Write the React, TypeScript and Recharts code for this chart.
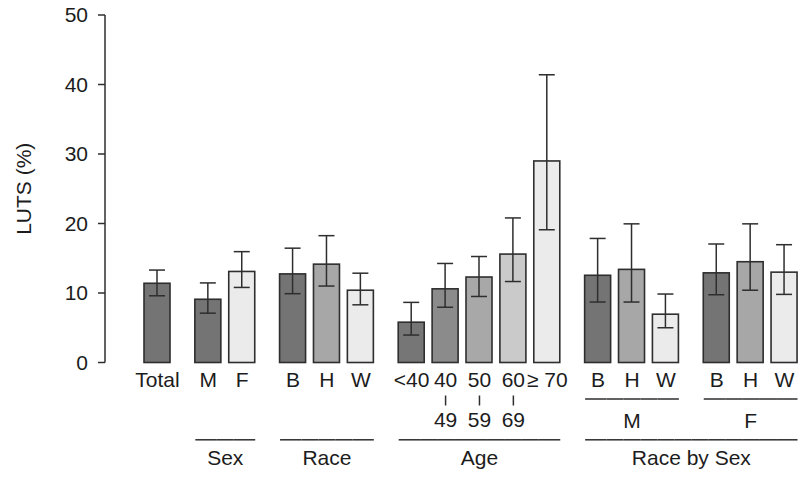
import React from "react";
import { BarChart, Bar, XAxis, YAxis, ErrorBar, Cell } from "recharts";

// ---------- data ----------
const totalLabels = ["Total"];
const totalValues = [11.4];
const totalLow = [9.6];
const totalHigh = [13.3];

const sexLabels = ["M", "F"];
const sexValues = [9.1, 13.1];
const sexLow = [7.1, 10.8];
const sexHigh = [11.45, 15.95];

const raceLabels = ["B", "H", "W"];
const raceValues = [12.75, 14.15, 10.4];
const raceLow = [9.9, 11.0, 8.3];
const raceHigh = [16.45, 18.25, 12.85];

const ageLabels = ["<40", "40", "50", "60", "\u2265 70"];
const ageSubLabels = ["", "49", "59", "69", ""];
const ageValues = [5.8, 10.6, 12.3, 15.6, 29.0];
const ageLow = [3.95, 7.95, 9.5, 11.65, 19.1];
const ageHigh = [8.65, 14.25, 15.25, 20.8, 41.4];

const maleRaceLabels = ["B", "H", "W"];
const maleRaceValues = [12.55, 13.4, 6.95];
const maleRaceLow = [8.7, 8.7, 5.0];
const maleRaceHigh = [17.85, 19.95, 9.85];

const femaleRaceLabels = ["B", "H", "W"];
const femaleRaceValues = [12.9, 14.5, 13.0];
const femaleRaceLow = [9.75, 10.4, 9.8];
const femaleRaceHigh = [17.05, 19.95, 16.95];

const yTicks = [0, 10, 20, 30, 40, 50];

// ---------- styles ----------
const C_DARK = "#747474";
const C_MID = "#a7a7a7";
const C_LIGHT = "#ebebeb";
const totalFills = [C_DARK];
const sexFills = [C_DARK, C_LIGHT];
const raceFills = [C_DARK, C_MID, C_LIGHT];
const ageFills = ["#767676", "#8b8b8b", "#a8a8a8", "#cacaca", "#ebebeb"];
const INK = "#1c1c1c";
const LINE = "#2e2e2e";
const FONT = "'Liberation Sans', Arial, Helvetica, sans-serif";
const FS = 21;
const BAR_W = 26;

// ---------- table ----------
type Seg = {
  outer: string;
  inner: string;
  labels: string[];
  subs?: string[];
  values: number[];
  low: number[];
  high: number[];
  fills: string[];
};

const segments: Seg[] = [
  { outer: "", inner: "", labels: totalLabels, values: totalValues, low: totalLow, high: totalHigh, fills: totalFills },
  { outer: "Sex", inner: "", labels: sexLabels, values: sexValues, low: sexLow, high: sexHigh, fills: sexFills },
  { outer: "Race", inner: "", labels: raceLabels, values: raceValues, low: raceLow, high: raceHigh, fills: raceFills },
  { outer: "Age", inner: "", labels: ageLabels, subs: ageSubLabels, values: ageValues, low: ageLow, high: ageHigh, fills: ageFills },
  { outer: "Race by Sex", inner: "M", labels: maleRaceLabels, values: maleRaceValues, low: maleRaceLow, high: maleRaceHigh, fills: raceFills },
  { outer: "Race by Sex", inner: "F", labels: femaleRaceLabels, values: femaleRaceValues, low: femaleRaceLow, high: femaleRaceHigh, fills: raceFills },
];

type Row = {
  key: string;
  label: string;
  sub: string;
  value: number | null;
  err?: [number, number];
  fill: string;
  outer: string;
  inner: string;
  outerTag: string;
  innerTag: string;
};

const rows: Row[] = [];
let blankId = 0;
const blank = (outer: string, inner: string, oTag: string, iTag: string): Row => ({
  key: `_${blankId++}`,
  label: "",
  sub: "",
  value: null,
  fill: "none",
  outer,
  inner,
  outerTag: oTag,
  innerTag: iTag,
});
segments.forEach((s, si) => {
  if (si > 0) {
    const sameOuter = segments[si - 1].outer === s.outer && s.outer !== "";
    const oTag = sameOuter ? `o${si}` : "";
    rows.push(blank(sameOuter ? s.outer : "", "", oTag, ""));
    rows.push(blank(sameOuter ? s.outer : "", "", oTag, ""));
  }
  s.labels.forEach((lab, j) => {
    rows.push({
      key: `${si}-${j}`,
      label: lab,
      sub: s.subs ? s.subs[j] : "",
      value: s.values[j],
      err: [s.values[j] - s.low[j], s.high[j] - s.values[j]],
      fill: s.fills[j],
      outer: s.outer,
      inner: s.inner,
      outerTag: s.outer ? `o${si}` : "",
      innerTag: s.inner ? `i${si}` : "",
    });
    if (j < s.labels.length - 1) {
      rows.push(blank(s.outer, s.inner, s.outer ? `o${si}` : "", s.inner ? `i${si}` : ""));
    }
  });
});
// unify outer tags within the same outer group
for (let i = 1; i < rows.length; i++) {
  if (rows[i].outer && rows[i].outer === rows[i - 1].outer && rows[i - 1].outerTag) {
    rows[i].outerTag = rows[i - 1].outerTag;
  }
}

type LevelInfo = { first: boolean; last: boolean; run: number; name: string } | null;
function levelInfo(i: number, tagKey: "outerTag" | "innerTag", nameKey: "outer" | "inner"): LevelInfo {
  const r = rows[i];
  const tag = r[tagKey];
  if (!tag) return null;
  const first = i === 0 || rows[i - 1][tagKey] !== tag;
  const last = i === rows.length - 1 || rows[i + 1][tagKey] !== tag;
  let run = 0;
  if (first) {
    let k = i;
    while (k < rows.length && rows[k][tagKey] === tag) {
      run++;
      k++;
    }
  }
  return { first, last, run, name: r[nameKey] };
}

const data = rows.map((r) => ({ key: r.key, value: r.value, err: r.err }));

// ---------- renderers ----------
const BarShape = (props: any) => {
  const { x, y, width, height, payload, fill } = props;
  if (!payload || payload.value == null || !isFinite(height)) return <g />;
  const cx = x + width / 2;
  return (
    <rect x={cx - BAR_W / 2} y={y} width={BAR_W} height={height} fill={fill} stroke={LINE} strokeWidth={1.6} />
  );
};

const XTick = (props: any) => {
  const { x, y, payload, index } = props;
  const band = payload && payload.offset ? payload.offset * 2 : 16.95;
  const i = typeof index === "number" ? index : rows.findIndex((r) => r.key === payload.value);
  const r = rows[i];
  if (!r) return null;
  const els: React.ReactNode[] = [];
  if (r.label) {
    els.push(
      <text key="l" x={x} y={y + 24.5} textAnchor="middle" fontSize={FS} fontFamily={FONT} fill={INK}>
        {r.label}
      </text>
    );
  }
  if (r.sub) {
    els.push(<line key="bar" x1={x} x2={x} y1={y + 33} y2={y + 43} stroke={LINE} strokeWidth={1.5} />);
    els.push(
      <text key="s" x={x} y={y + 64} textAnchor="middle" fontSize={FS} fontFamily={FONT} fill={INK}>
        {r.sub}
      </text>
    );
  }
  const levels: [LevelInfo, number, number][] = [
    [levelInfo(i, "innerTag", "inner"), 36.5, 65.3],
    [levelInfo(i, "outerTag", "outer"), 77.3, 102.5],
  ];
  levels.forEach(([info, ly, ty], li) => {
    if (!info) return;
    const left = info.first ? x - BAR_W / 2 : x - band / 2;
    const right = info.last ? x + BAR_W / 2 : x + band / 2;
    els.push(<line key={`g${li}`} x1={left} x2={right} y1={y + ly} y2={y + ly} stroke={LINE} strokeWidth={1.5} />);
    if (info.first) {
      els.push(
        <text key={`t${li}`} x={x + ((info.run - 1) * band) / 2} y={y + ty} textAnchor="middle" fontSize={FS} fontFamily={FONT} fill={INK}>
          {info.name}
        </text>
      );
    }
  });
  return <g>{els}</g>;
};

const YLabel = (props: any) => {
  const vb = props.viewBox || { x: 0, y: 15, width: 105, height: 347 };
  const cx = vb.x + 23.5;
  const cy = vb.y + vb.height / 2;
  return (
    <text x={cx} y={cy} transform={`rotate(-90, ${cx}, ${cy})`} textAnchor="middle" dominantBaseline="central" fontSize={FS} fontFamily={FONT} fill={INK}>
      LUTS (%)
    </text>
  );
};

export default function App() {
  return (
    <div style={{ position: "absolute", left: 0, top: 0, width: 798, height: 477, background: "#fff", overflow: "hidden" }}>
      <BarChart width={798} height={477} data={data} margin={{ top: 15, right: 5, bottom: 0, left: 0 }} barSize={10}>
        <XAxis
          dataKey="key"
          type="category"
          interval={0}
          axisLine={false}
          tickLine={false}
          tickSize={0}
          tickMargin={0}
          height={114.5}
          padding={{ left: 44, right: 0 }}
          tick={<XTick />}
        />
        <YAxis
          type="number"
          domain={[0, 50]}
          ticks={yTicks}
          interval={0}
          width={105}
          tickSize={7}
          tickMargin={10}
          axisLine={{ stroke: LINE, strokeWidth: 1.5 }}
          tickLine={{ stroke: LINE, strokeWidth: 1.5 }}
          tick={{ fontSize: FS, fontFamily: FONT, fill: INK }}
          label={<YLabel />}
        />
        <Bar dataKey="value" isAnimationActive={false} shape={<BarShape />}>
          {rows.map((r) => (
            <Cell key={r.key} fill={r.fill} />
          ))}
          <ErrorBar dataKey="err" width={8} stroke={LINE} strokeWidth={1.5} />
        </Bar>
      </BarChart>
    </div>
  );
}
